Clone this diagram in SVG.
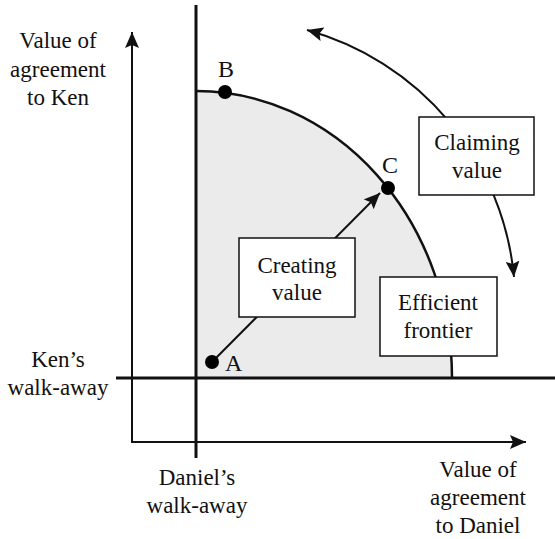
<svg xmlns="http://www.w3.org/2000/svg" width="555" height="539" viewBox="0 0 555 539">
  <style>
    text { font-family: 'Liberation Serif', 'DejaVu Serif', serif; font-size: 23px; fill: #111; text-anchor: middle; }
    .pt { font-size: 24px; text-anchor: start; }
    .box { fill: #fff; stroke: #111; stroke-width: 1.5; }
    .axis { fill: none; stroke: #111; stroke-width: 2; }
    .walk { fill: none; stroke: #111; stroke-width: 3; }
    .conn { fill: none; stroke: #111; stroke-width: 2; }
    .dot { fill: #000; }
  </style>
  <defs>
    <marker id="ah" markerUnits="userSpaceOnUse" markerWidth="17" markerHeight="14" refX="16" refY="7" orient="auto-start-reverse">
      <path d="M0,0 L16,7 L0,14 L3,7 z" fill="#111"/>
    </marker>
  </defs>
  <rect width="555" height="539" fill="#fff"/>

  <g id="region">
    <path d="M196,378 L196,91 A256,287 0 0 1 452,378 Z" fill="#ebebeb"/>
  </g>

  <g id="walkaways">
    <line class="walk" x1="196" y1="5" x2="196" y2="458"/>
    <line class="walk" x1="116" y1="378" x2="555" y2="378"/>
  </g>

  <g id="axes">
    <path class="axis" d="M132,32 L132,442 L526,442" marker-start="url(#ah)" marker-end="url(#ah)"/>
  </g>

  <g id="frontier">
    <path d="M196,91 A256,287 0 0 1 452,378" fill="none" stroke="#111" stroke-width="2.5"/>
  </g>

  <g id="connectors">
    <line class="conn" x1="212" y1="362" x2="380" y2="193" marker-end="url(#ah)"/>
    <path class="conn" d="M307,30 A284,284 0 0 1 514,277" marker-start="url(#ah)" marker-end="url(#ah)"/>
  </g>

  <g id="box-creating">
    <rect class="box" x="239" y="238" width="116" height="79"/>
    <text x="297" y="273" font-family="Liberation Serif, serif">Creating</text>
    <text x="297" y="300" font-family="Liberation Serif, serif">value</text>
  </g>

  <g id="box-efficient">
    <rect class="box" x="380" y="277" width="117" height="79"/>
    <text x="438" y="310">Efficient</text>
    <text x="438" y="338">frontier</text>
  </g>

  <g id="box-claiming">
    <rect class="box" x="419" y="117" width="115" height="78"/>
    <text x="477" y="150">Claiming</text>
    <text x="477" y="178">value</text>
  </g>

  <g id="point-A">
    <circle class="dot" cx="212" cy="362" r="7"/>
    <text class="pt" x="225" y="371">A</text>
  </g>
  <g id="point-B">
    <circle class="dot" cx="225" cy="92" r="7"/>
    <text class="pt" x="218" y="77">B</text>
  </g>
  <g id="point-C">
    <circle class="dot" cx="388" cy="188" r="7"/>
    <text class="pt" x="382" y="173">C</text>
  </g>

  <g id="label-ken-axis">
    <text x="58" y="48">Value of</text>
    <text x="58" y="77">agreement</text>
    <text x="58" y="105">to Ken</text>
  </g>
  <g id="label-ken-walkaway">
    <text x="58" y="367">Ken’s</text>
    <text x="58" y="395">walk-away</text>
  </g>
  <g id="label-daniel-walkaway">
    <text x="197" y="485">Daniel’s</text>
    <text x="197" y="513">walk-away</text>
  </g>
  <g id="label-daniel-axis">
    <text x="478" y="477">Value of</text>
    <text x="478" y="505">agreement</text>
    <text x="478" y="533">to Daniel</text>
  </g>
</svg>
